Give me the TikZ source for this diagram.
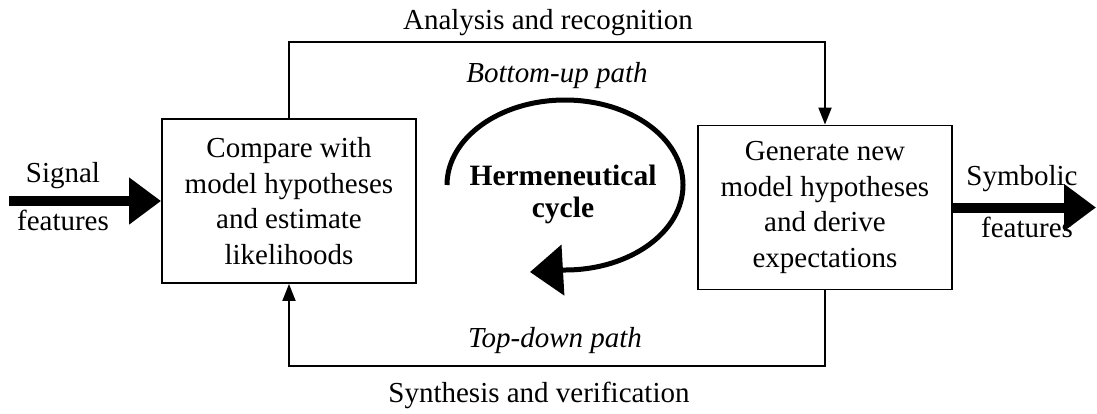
\documentclass[tikz,border=0pt]{standalone}
\usepackage{fontspec}
\setmainfont{Liberation Serif}
\usetikzlibrary{arrows.meta,positioning}

\begin{document}
\begin{tikzpicture}
[
  x=0.02cm, y=0.02cm,
  txt/.style={font=\fontsize{16.5pt}{20.4pt}\selectfont},
  pathlbl/.style={font=\fontsize{16.5pt}{20.4pt}\selectfont\itshape, anchor=base},
  lbl/.style={txt, anchor=base},
  procbox/.style={txt, draw, line width=1.1pt, align=center, minimum width=5.08cm, minimum height=3.28cm, inner sep=2pt},
  flow/.style={line width=1.1pt, -{Triangle[length=0.34cm,width=0.26cm]}},
  bigarrow/.style={line width=0.2cm, -{Triangle[length=0.64cm,width=0.9cm]}},
  cycleline/.style={line width=0.1cm, -{Triangle[length=0.66cm,width=1.0cm]}},
  cyclbl/.style={font=\fontsize{16.8pt}{18.7pt}\selectfont\bfseries, align=center}
]
\useasboundingbox (0,0) rectangle (1097,-413);

% boxes
\node[procbox] (cmp) at (289,-201) {Compare with\\model hypotheses\\and estimate\\likelihoods};
\node[procbox] (gen) at (825,-207.5) {Generate new\\model hypotheses\\and derive\\expectations};

% signal in, symbols out
\coordinate (sigin) at (9,-201);
\coordinate (symout) at (1096,-207.5);
\draw[bigarrow] (sigin) -- (cmp.west);
\draw[bigarrow] (gen.east) -- (symout);
\node[lbl] (sig) at (63,-182) {Signal};
\node[lbl] (sigf) at (63,-230) {features};
\node[lbl] (sym) at (1022,-185) {Symbolic};
\node[lbl] (symf) at (1027,-237) {features};

% bottom-up and top-down paths
\draw[flow] (cmp.north) -- ++(0,76) -| (gen.north);
\draw[flow] (gen.south) -- ++(0,-76) -| (cmp.south);
\node[lbl] (ana) at (548,-29) {Analysis and recognition};
\node[pathlbl] (bup) at (557,-82) {Bottom-up path};
\node[pathlbl] (tdn) at (555,-347) {Top-down path};
\node[lbl] (syn) at (539,-402) {Synthesis and verification};

% cycle
\draw[cycleline] (447,-185) arc[start angle=180, end angle=-90, x radius=118, y radius=85] -- (530,-272);
\node[cyclbl] (herm) at (563,-194.5) {Hermeneutical\\cycle};

\end{tikzpicture}
\end{document}
